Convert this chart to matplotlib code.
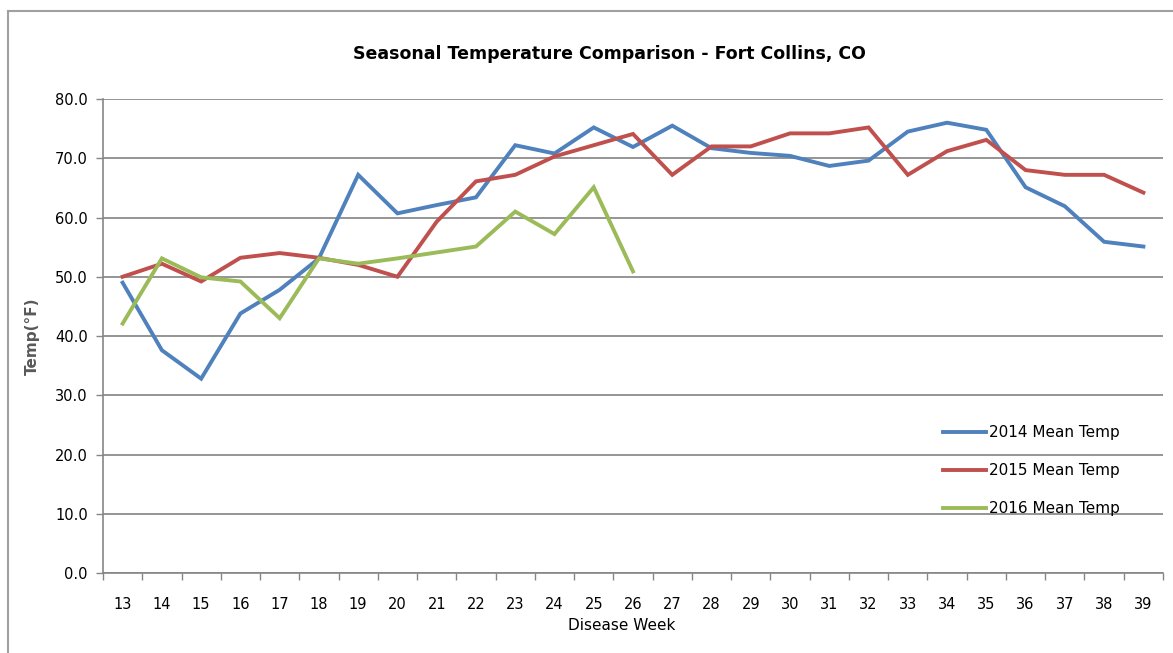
import numpy as np
import matplotlib.pyplot as plt
from matplotlib.lines import Line2D

plt.rc('font', family=['DejaVu Sans'])

weeks = list(range(13, 40))
temp_2014 = [49.0, 37.6, 32.8, 43.8, 47.8, 53.1, 67.2, 60.7, 62.1, 63.4, 72.2, 70.8,
             75.2, 71.9, 75.5, 71.7, 70.9, 70.4, 68.7, 69.6, 74.5, 76.0, 74.8, 65.1,
             61.9, 55.9, 55.1]
temp_2015 = [50.0, 52.2, 49.2, 53.2, 54.0, 53.2, 52.0, 50.0, 59.3, 66.1, 67.2, 70.3,
             72.2, 74.1, 67.2, 72.0, 72.0, 74.2, 74.2, 75.2, 67.2, 71.2, 73.1, 68.0,
             67.2, 67.2, 64.2]
temp_2016 = [42.1, 53.1, 49.9, 49.2, 43.0, 53.1, 52.2, 53.1, 54.1, 55.1, 61.0, 57.2,
             65.1, 50.9]
series = [('2014 Mean Temp', temp_2014, '#4F81BD'),
          ('2015 Mean Temp', temp_2015, '#C0504D'),
          ('2016 Mean Temp', temp_2016, '#9BBB59')]

W, H = 1173, 653
fig = plt.figure(figsize=(W / 100, H / 100), dpi=100)
ax = fig.add_axes([103 / W, 1 - 573 / H, 1060 / W, 474 / H])

for name, vals, col in series:
    ax.plot(weeks[:len(vals)], vals, color=col, linewidth=2.8, label=name,
            solid_joinstyle='miter')

ax.set_xlim(12.5, 39.5)
ax.set_ylim(0, 80)
ax.set_yticks(np.arange(0, 81, 10))
ax.set_yticklabels([f'{v:.1f}' for v in np.arange(0, 81, 10)])
ax.set_xticks(weeks)
ax.set_xticks(np.arange(12.5, 40, 1), minor=True)
ax.tick_params(axis='x', which='major', length=0, pad=17, labelsize=10.5, colors='black')
ax.tick_params(axis='x', which='minor', length=5, width=1, color='#868686', direction='out')
ax.tick_params(axis='y', length=5, width=1, color='#868686', pad=6, labelsize=10.5,
               labelcolor='black')
ax.grid(axis='y', color='#8c8c8c', linewidth=1.3)
ax.set_axisbelow(True)
for s in ['top', 'right']:
    ax.spines[s].set_visible(False)
for s in ['left', 'bottom']:
    ax.spines[s].set_color('#868686')
    ax.spines[s].set_linewidth(1.2)

fig.text(609 / W, 1 - 54 / H, 'Seasonal Temperature Comparison - Fort Collins, CO',
         ha='center', va='center', fontsize=12.5, fontweight='bold')
fig.text(622 / W, 1 - 625 / H, 'Disease Week', ha='center', va='center', fontsize=11)
fig.text(32 / W, 1 - 336 / H, 'Temp(°F)', ha='center', va='center', rotation=90,
         fontsize=11, fontweight='bold', color='#595959')

ax.legend(loc='upper left', bbox_to_anchor=((937 - 103) / 1060, 1 - (419 - 99) / 474),
          frameon=False, fontsize=11, handlelength=2.8, handletextpad=0.2,
          labelspacing=1.5, borderaxespad=0)

# chart border (top and left edges)
fig.add_artist(Line2D([8 / W, 1], [1 - 11 / H, 1 - 11 / H], color='#a0a0a0', linewidth=1.5))
fig.add_artist(Line2D([8 / W, 8 / W], [0, 1 - 11 / H], color='#a0a0a0', linewidth=1.5))

fig.savefig('out.png', dpi=100)
